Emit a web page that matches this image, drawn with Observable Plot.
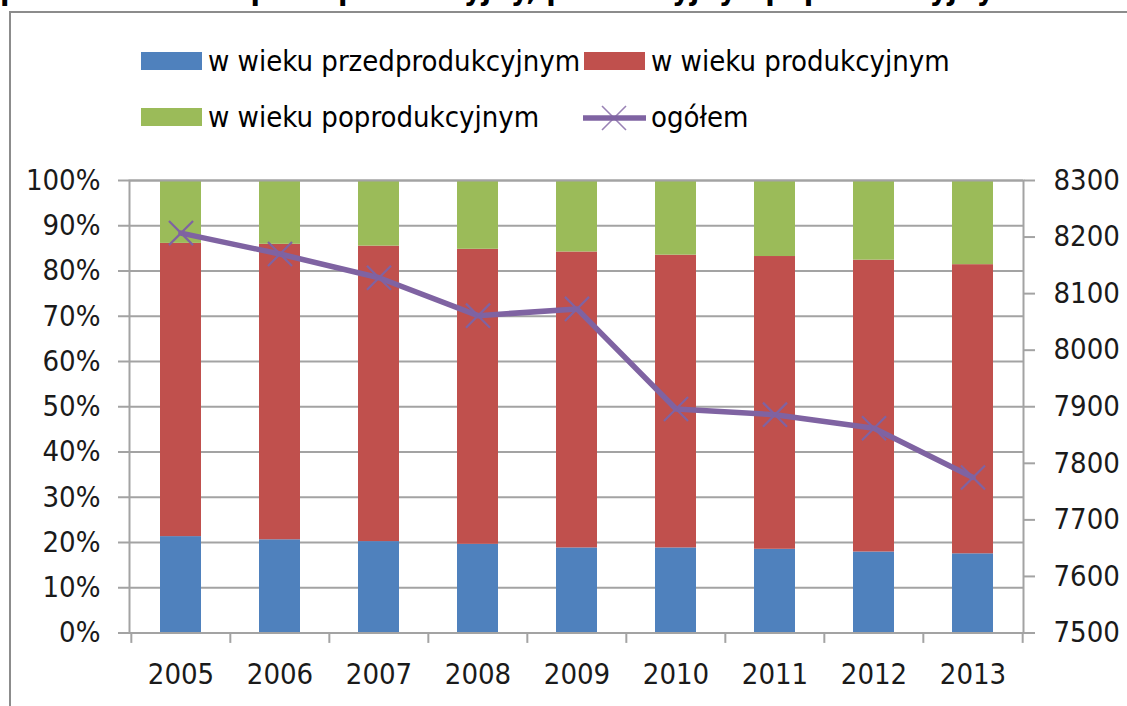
<!DOCTYPE html>
<html><head><meta charset="utf-8">
<script src="https://cdn.jsdelivr.net/npm/d3@7"></script>
<script src="https://cdn.jsdelivr.net/npm/@observablehq/plot@0.6"></script>
<style>
html,body{margin:0;padding:0;background:#fff;}
body{width:1127px;height:706px;overflow:hidden;position:relative;font-family:"DejaVu Sans";font-stretch:condensed;}
#title{position:absolute;left:0;top:-25px;font-family:"DejaVu Sans";font-stretch:condensed;font-weight:bold;font-size:27px;line-height:1;white-space:nowrap;color:#000;}
#frame{position:absolute;left:9px;top:11px;width:1300px;height:900px;border:2.5px solid #8c8c8c;box-sizing:border-box;}
.lt{position:absolute;font-size:29px;line-height:29px;color:#000;white-space:nowrap;}
.sw{position:absolute;width:61px;height:18px;}
#chart{position:absolute;left:0;top:150px;}
</style>
</head><body>
<div id="title">podział na wiek przedprodukcyjny, produkcyjny i poprodukcyjny</div>
<div id="frame"></div>
<div id="legend"></div>
<div id="chart"></div>
<script>
const years = ["2005","2006","2007","2008","2009","2010","2011","2012","2013"];
const seriesNames = ["w wieku przedprodukcyjnym","w wieku produkcyjnym","w wieku poprodukcyjnym"];
const seriesColors = ["#4F81BD","#C0504D","#9BBB59"];
const przedprodukcyjny = [21.3,20.6,20.2,19.6,18.8,18.8,18.5,17.9,17.5];
const produkcyjny      = [64.8,65.3,65.3,65.2,65.4,64.7,64.7,64.5,63.9];
const poprodukcyjny    = [13.9,14.1,14.5,15.2,15.8,16.5,16.8,17.6,18.6];
const ogolemName = "ogółem";
const ogolemColor = "#7F63A2";
const ogolem = [8207,8170,8128,8061,8073,7896,7886,7862,7775];
const leftTicks = [0,10,20,30,40,50,60,70,80,90,100];
const rightTicks = [7500,7600,7700,7800,7900,8000,8100,8200,8300];

// secondary axis mapped onto the percent scale
const rMin = 7500, rMax = 8300;
const toPct = v => (v - rMin) / (rMax - rMin) * 100;
const fromPct = p => Math.round(rMin + p / 100 * (rMax - rMin));

// title fit
(function(){
  const t = document.getElementById("title");
  const w = t.getBoundingClientRect().width;
  t.style.fontSize = (27 * 995 / w) + "px";
})();

// legend
const legend = document.getElementById("legend");
function addSwatch(x, y, color){
  const d = document.createElement("div"); d.className="sw";
  d.style.left = x+"px"; d.style.top = y+"px"; d.style.background = color;
  legend.appendChild(d);
}
function addText(x, baseline, txt){
  const d = document.createElement("div"); d.className="lt";
  d.style.left = x+"px"; d.style.top = (baseline-24)+"px"; d.textContent = txt;
  legend.appendChild(d);
}
addSwatch(141, 52, seriesColors[0]); addText(208, 71, seriesNames[0]);
addSwatch(584, 52, seriesColors[1]); addText(651, 71, seriesNames[1]);
addSwatch(141, 108, seriesColors[2]); addText(208, 127, seriesNames[2]);
(function(){
  const ns="http://www.w3.org/2000/svg";
  const s=document.createElementNS(ns,"svg");
  s.setAttribute("width","70"); s.setAttribute("height","30");
  s.style.position="absolute"; s.style.left="580px"; s.style.top="103px";
  s.innerHTML = `<line x1="3" y1="15" x2="66" y2="15" stroke="${ogolemColor}" stroke-width="5.5"/>
  <path d="M22,3L46,27M46,3L22,27" stroke="${ogolemColor}" stroke-width="1.6" fill="none" opacity="0.8"/>`;
  legend.appendChild(s);
})();
addText(651, 127, ogolemName);

const rows = [];
years.forEach((yr,i)=>{
  rows.push({year:yr, series:seriesNames[0], value:przedprodukcyjny[i]});
  rows.push({year:yr, series:seriesNames[1], value:produkcyjny[i]});
  rows.push({year:yr, series:seriesNames[2], value:poprodukcyjny[i]});
});
const lineData = years.map((yr,i)=>({year:yr, v:ogolem[i]}));

const W = 1127, H = 556, mL = 129, mR = 104, mT = 30, mB = 73.5;
const step = (W - mL - mR) / years.length;
const gridColor = "#a3a3a3";

const chart = Plot.plot({
  width: W, height: H,
  marginLeft: mL, marginRight: mR, marginTop: mT, marginBottom: mB,
  style: {fontFamily:"DejaVu Sans", fontStretch:"condensed", fontSize:"29px", color:"#000", background:"transparent", overflow:"visible"},
  x: {type:"band", domain: years, paddingInner: 0.59, paddingOuter: 0.295, axis: null, label: null},
  y: {domain:[0,100], axis:null, label: null},
  color: {domain: seriesNames, range: seriesColors},
  marks: [
    Plot.gridY(leftTicks, {stroke:gridColor, strokeOpacity:1, strokeWidth:2}),
    Plot.barY(rows, Plot.stackY({x:"year", y:"value", fill:"series"})),
    Plot.frame({stroke:gridColor, strokeWidth:2}),
    Plot.axisY(leftTicks, {anchor:"left", label:null, tickSize:11, tickPadding:18, tickFormat:d=>d+"%", stroke:gridColor, strokeWidth:2, fill:"#1a1a1a"}),
    Plot.axisY(rightTicks.map(toPct), {anchor:"right", label:null, tickSize:11, tickPadding:19, tickFormat:d=>String(fromPct(d)), stroke:gridColor, strokeWidth:2, fill:"#1a1a1a"}),
    Plot.ruleX(years, {x:d=>d, y1:0, y2:-2.3, dx:-step/2, stroke:gridColor, strokeWidth:2}),
    Plot.ruleX(years.slice(-1), {x:d=>d, y1:0, y2:-2.3, dx:step/2, stroke:gridColor, strokeWidth:2}),
    Plot.axisX({label:null, tickSize:0, tickPadding:30, fill:"#1a1a1a"}),
    Plot.line(lineData, {x:"year", y:d=>toPct(d.v), stroke:ogolemColor, strokeWidth:5.5, strokeLinejoin:"round"}),
    Plot.dot(lineData, {x:"year", y:d=>toPct(d.v), symbol:"times", r:11, stroke:ogolemColor, strokeWidth:2.2})
  ]
});
document.getElementById("chart").appendChild(chart);
</script>
</body></html>
